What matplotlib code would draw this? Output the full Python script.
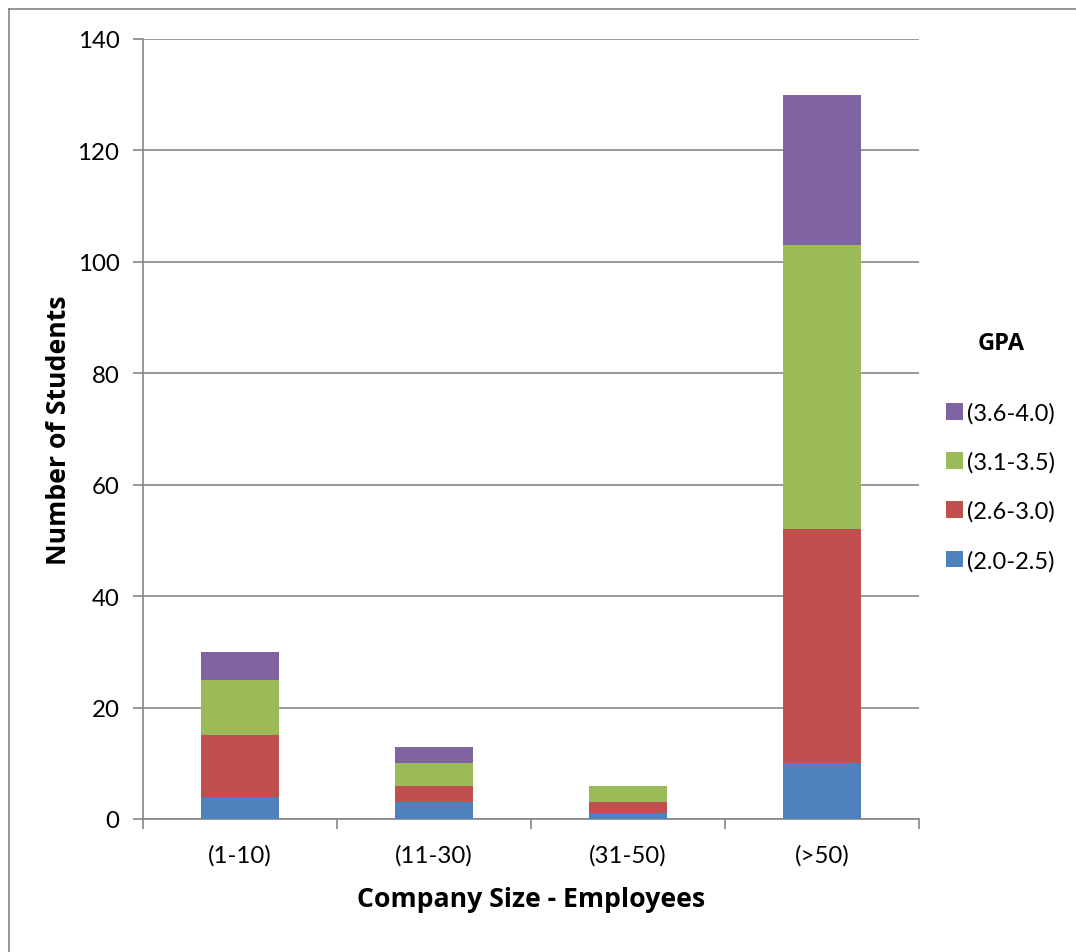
import matplotlib
matplotlib.use("Agg")
import matplotlib.pyplot as plt
from matplotlib.patches import Patch
from matplotlib.lines import Line2D
import numpy as np

plt.rcParams['font.family'] = ['Lato', 'DejaVu Sans']
BOLD = ['Open Sans', 'DejaVu Sans']

categories = ["(1-10)", "(11-30)", "(31-50)", "(>50)"]
series_names = ["(2.0-2.5)", "(2.6-3.0)", "(3.1-3.5)", "(3.6-4.0)"]
gpa_20_25 = [4, 3, 1, 10]
gpa_26_30 = [11, 3, 2, 42]
gpa_31_35 = [10, 4, 3, 51]
gpa_36_40 = [5, 3, 0, 27]
colors = ["#4F81BD", "#C0504D", "#9BBB59", "#8064A2"]

fig = plt.figure(figsize=(10.76, 9.53), dpi=100)
ax = fig.add_axes([143/1076, 1-820/953, (919-143)/1076, (820-40)/953])

x = np.arange(len(categories))
bottom = np.zeros(len(categories))
for vals, c in zip([gpa_20_25, gpa_26_30, gpa_31_35, gpa_36_40], colors):
    ax.bar(x, vals, width=0.4, bottom=bottom, color=c, edgecolor='none', zorder=3)
    bottom += np.array(vals)

ax.set_xlim(-0.5, 3.5)
ax.set_ylim(0, 140)
ax.set_yticks(range(0, 141, 20))
ax.yaxis.grid(True, color='#868686', linewidth=1.2, zorder=0)
ax.set_axisbelow(True)
ax.set_xticks(x)
ax.set_xticklabels(categories, fontsize=17.3)
ax.set_xticks(np.arange(-0.5, 4.0, 1.0), minor=True)
ax.tick_params(axis='x', which='major', length=0, pad=18)
ax.tick_params(axis='x', which='minor', length=7, width=1.2, color='#868686', direction='out')
ax.tick_params(axis='y', length=7, width=1.2, color='#868686', labelsize=17.3, pad=10)

for s in ['top', 'right']:
    ax.spines[s].set_visible(False)
for s in ['left', 'bottom']:
    ax.spines[s].set_color('#868686')
    ax.spines[s].set_linewidth(1.2)

ax.set_xlabel("Company Size - Employees", fontsize=19.2, fontweight='bold', family=BOLD, labelpad=15)
ax.set_ylabel("Number of Students", fontsize=19.2, fontweight='bold', family=BOLD, labelpad=4)

handles = [Patch(facecolor=c, edgecolor='none') for c in colors][::-1]
labels = series_names[::-1]
leg = fig.legend(handles, labels, loc='center left', bbox_to_anchor=(925/1076, 1-452/953),
                 frameon=False, fontsize=17, title="GPA", handlelength=0.7, handleheight=0.7,
                 handletextpad=0.2, labelspacing=1.17)
leg.get_title().set_fontweight('bold')
leg.get_title().set_family(BOLD)
leg.get_title().set_fontsize(17)
leg._legend_box.sep = 34

fig.add_artist(Line2D([9/1076, 9/1076], [0, 1-10/953], color='#868686', linewidth=1.2, transform=fig.transFigure))
fig.add_artist(Line2D([9/1076, 1], [1-10/953, 1-10/953], color='#868686', linewidth=1.2, transform=fig.transFigure))

fig.savefig("out.png", dpi=100)
